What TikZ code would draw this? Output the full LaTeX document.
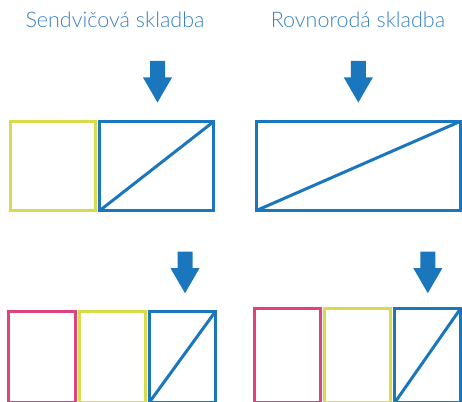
\documentclass[tikz,border=0pt]{standalone}
\usepackage{fontspec}
\IfFontExistsTF{Lato Light}{\setmainfont{Lato Light}}{\setmainfont{Lato}}
\usetikzlibrary{positioning}
\definecolor{layblue}{HTML}{1B77BD}
\definecolor{layyellow}{HTML}{D8DC4B}
\definecolor{laypink}{HTML}{E2417F}
\definecolor{titleblue}{HTML}{3A82C4}
\tikzset{
  box/.style={draw, line width=3pt, inner sep=0pt, outer sep=0pt},
  title/.style={text=titleblue, font=\fontsize{21.5}{25}\selectfont, anchor=base},
  pics/downarrow/.style={code={
    \fill[layblue] (-7.5,0) -- (7.5,0) -- (7.5,16.5) -- (14.5,16.5) -- (0,41.5)
      -- (-14.5,16.5) -- (-7.5,16.5) -- cycle;}}
}
\begin{document}
\begin{tikzpicture}[x=1pt, y=-1pt]
  % 1. rozmery obrazku
  \clip (0,0) rectangle (462,401);

  % 2. nadpisy
  \node[title] (tsend) at (115,27.3) {Sendvičová skladba};
  \node[title] (trovn) at (358,27.3) {Rovnorodá skladba};

  % 3. horni rada
  \node[box, layyellow, minimum width=84.7pt, minimum height=89pt, anchor=north west] (yelA) at (10.5,121.5) {};
  \node[box, layblue, minimum width=114pt, minimum height=89pt, right=4.6pt of yelA] (bluA) {};
  \draw[layblue, line width=3pt] (bluA.south west) -- (bluA.north east);
  \node[box, layblue, minimum width=203.5pt, minimum height=89pt, anchor=north west] (bluB) at (256.5,121.5) {};
  \draw[layblue, line width=3pt] (bluB.south west) -- (bluB.north east);
  \pic at (157.5,61) {downarrow};
  \pic at (358.3,61) {downarrow};

  % 4. dolni rada (oriznuta dole)
  \node[box, laypink, minimum width=66.2pt, minimum height=91.5pt, anchor=north west] (pinC) at (8.8,311) {};
  \node[box, layyellow, minimum width=66pt, minimum height=91.5pt, right=4.2pt of pinC] (yelC) {};
  \node[box, layblue, minimum width=66.6pt, minimum height=91.5pt, right=4pt of yelC] (bluC) {};
  \draw[layblue, line width=3pt] (bluC.south west) -- (bluC.north east);
  \node[box, laypink, minimum width=66pt, minimum height=94.3pt, anchor=north west] (pinD) at (254.8,308.2) {};
  \node[box, layyellow, minimum width=66pt, minimum height=94.3pt, right=4pt of pinD] (yelD) {};
  \node[box, layblue, minimum width=66pt, minimum height=94.3pt, right=4pt of yelD] (bluD) {};
  \draw[layblue, line width=3pt] (bluD.south west) -- (bluD.north east);
  \pic at (185,251.7) {downarrow};
  \pic at (427.8,251.7) {downarrow};
\end{tikzpicture}
\end{document}
